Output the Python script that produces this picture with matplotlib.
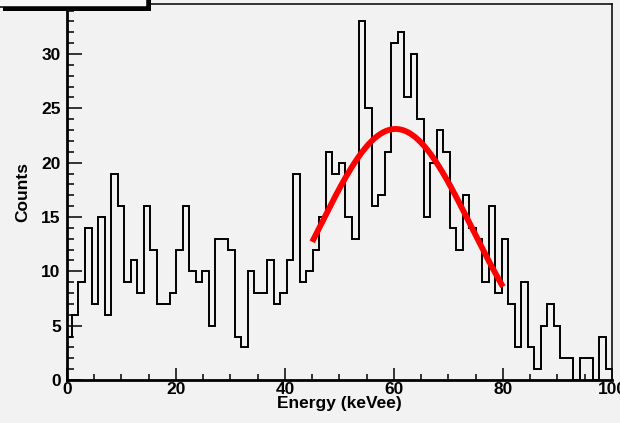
import numpy as np
import matplotlib
matplotlib.use("Agg")
import matplotlib.pyplot as plt
from matplotlib.patches import Rectangle
from matplotlib.ticker import MultipleLocator

# histogram contents, one entry per bin
counts = [4, 6, 9, 14, 7, 15, 6, 19, 16, 9,
          11, 8, 16, 12, 7, 7, 8, 12, 16, 10,
          9, 10, 5, 13, 13, 12, 4, 3, 10, 8,
          8, 11, 7, 8, 11, 19, 9, 10, 12, 15,
          21, 19, 20, 15, 13, 33, 25, 16, 17, 21,
          31, 32, 26, 30, 24, 15, 20, 23, 21, 14,
          12, 17, 14, 13, 9, 16, 8, 13, 7, 3,
          9, 3, 1, 5, 7, 5, 2, 2, 0, 2,
          2, 0, 4, 1]
bin_start = -0.275   # keVee
bin_width = 1.195    # keVee

# gaussian fit result and fit range
fit_amp = 23.1
fit_mean = 60.3
fit_sigma = 14.0
fit_range = (45.0, 80.0)

plt.rcParams['font.family'] = ['Liberation Sans', 'DejaVu Sans']
plt.rcParams['font.weight'] = 'bold'

bg = '#f2f2f2'
fs = 12.5
fig = plt.figure(figsize=(6.2, 4.23), dpi=100, facecolor=bg)
ax = fig.add_axes([0.108, 0.1017, 0.879, 0.8888], facecolor=bg)

edges = bin_start + bin_width * np.arange(len(counts) + 1)
ax.stairs(counts, edges, color='black', linewidth=1.4, baseline=0)

xf = np.linspace(fit_range[0], fit_range[1], 200)
yf = fit_amp * np.exp(-0.5 * ((xf - fit_mean) / fit_sigma) ** 2)
ax.plot(xf, yf, color='#ff0000', linewidth=4.2, solid_capstyle='butt', zorder=3)

ax.set_xlim(0, 100)
ax.set_ylim(0, 34.6)

ax.xaxis.set_major_locator(MultipleLocator(20))
ax.xaxis.set_minor_locator(MultipleLocator(5))
ax.yaxis.set_major_locator(MultipleLocator(5))
ax.yaxis.set_minor_locator(MultipleLocator(1))

ax.tick_params(axis='x', which='major', direction='in', length=8.5, width=1.1,
               labelsize=fs, pad=1.5)
ax.tick_params(axis='x', which='minor', direction='in', length=4.3, width=1.1)
ax.tick_params(axis='y', which='major', direction='in', length=10.8, width=1.1,
               labelsize=fs, pad=4.5)
ax.tick_params(axis='y', which='minor', direction='in', length=4.8, width=1.1)

for lab in ax.get_xticklabels() + ax.get_yticklabels():
    lab.set_fontweight('bold')

ax.spines['left'].set_linewidth(2.0)
ax.spines['bottom'].set_linewidth(2.0)
ax.spines['top'].set_linewidth(1.1)
ax.spines['right'].set_linewidth(1.1)

ax.set_xlabel('Energy (keVee)', fontsize=fs, fontweight='bold', labelpad=-1)
ax.set_ylabel('Counts', fontsize=fs, fontweight='bold')
ax.yaxis.set_label_coords(-0.068, 0.5)

# clipped title box in the top-left corner, with its drop shadow
W, H = 620.0, 423.0
fig.patches.append(Rectangle((3 / W, 1 - 10.7 / H), 147.5 / W, 12 / H,
                             transform=fig.transFigure, facecolor='black',
                             edgecolor='none', zorder=5))
fig.patches.append(Rectangle((-2 / W, 1 - 7 / H), 149 / W, 10 / H,
                             transform=fig.transFigure, facecolor='#f7f7f7',
                             edgecolor='black', linewidth=1.1, zorder=6))

fig.savefig('out.png', dpi=100, facecolor=bg)
